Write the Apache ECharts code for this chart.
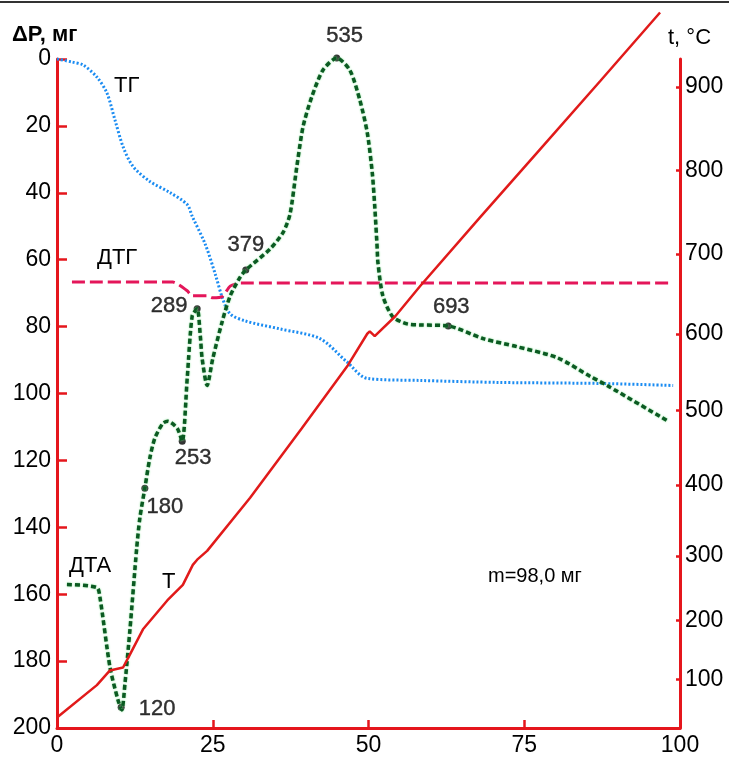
<!DOCTYPE html>
<html>
<head>
<meta charset="utf-8">
<script src="https://cdn.jsdelivr.net/npm/echarts@6/dist/echarts.min.js"></script>
<style>
html, body { margin: 0; padding: 0; background: #fff; }
#chart { width: 729px; height: 757px; }
</style>
</head>
<body>
<div id="chart"></div>
<script>
// Ось X (время / шкала 0..100)
const xTicks = [0, 25, 50, 75, 100];

// ТГ — потеря массы, мг
const tgX = [0, 2.4, 4.2, 6.4, 8.0, 9.3, 10.6, 12.2, 14.9, 18.1, 20.9, 21.7, 23.8, 25.4, 26.6, 27.8, 30.2, 35.8, 42.2, 46.5, 49.8, 58.3, 71.1, 87.2, 98.9];
const tgY = [0, 0.9, 1.8, 5.4, 10.1, 18.2, 26.2, 32.1, 36.6, 39.9, 43.5, 47.0, 55.4, 64.3, 71.7, 76.2, 78.3, 80.7, 83.6, 90.5, 95.5, 96.1, 96.7, 97.0, 97.6];

// ДТГ
const dtgX = [2.4, 18.6, 20.9, 21.7, 24.1, 25.0, 26.5, 27.8, 29.4, 98.1];
const dtgY = [66.7, 66.7, 69.3, 70.8, 70.8, 71.4, 71.1, 67.9, 67.0, 67.0];

// ДТА
const dtaX = [1.6, 6.4, 6.9, 8.5, 9.8, 10.4, 10.9, 11.7, 12.8, 13.3, 14.1, 14.9, 15.7, 17.0, 17.8, 19.3, 20.1, 20.9, 21.7, 22.5, 23.0, 23.3, 24.1, 25.0, 26.5, 27.8, 29.4, 30.3, 34.2, 36.3, 37.4, 38.5, 39.5, 40.9, 42.7, 44.9, 47.0, 48.6, 49.8, 50.6, 51.0, 51.4, 51.5, 52.3, 53.9, 56.2, 58.3, 62.8, 68.4, 73.8, 80.3, 85.6, 88.3, 98.1];
const dtaY = [157.1, 158.0, 161.0, 181.8, 191.7, 194.6, 186.9, 170.8, 146.1, 137.2, 128.3, 119.3, 113.4, 108.9, 108.3, 110.4, 114.3, 95.5, 76.8, 74.7, 82.7, 89.6, 97.6, 89.6, 78.6, 70.8, 65.2, 63.1, 56.8, 51.8, 46.4, 32.1, 20.2, 11.3, 3.3, -0.3, 3.3, 12.2, 22.0, 33.9, 44.0, 56.8, 60.7, 70.8, 77.1, 79.2, 79.5, 79.8, 83.6, 86.0, 89.3, 94.9, 97.6, 108.3];

// T — температура, °C
const tX = [0, 6.4, 8.5, 10.6, 11.7, 13.8, 17.7, 20.2, 21.8, 22.5, 24.1, 31.0, 39.3, 46.7, 49.8, 50.2, 51.0, 54.3, 58.3, 67.9, 77.5, 87.2, 96.8];
const tY = [35, 90, 115, 120, 142, 185, 231, 255, 286, 294, 307, 382, 476, 559, 600, 603, 597, 622, 660, 744, 825, 907, 989];

// Неравномерная шкала температуры справа: подписи и их место на шкале 0..1000
const tempTicks = [100, 200, 300, 400, 500, 600, 700, 800, 900];
const tempTickScale = [72.9, 160.7, 257.4, 363.1, 474.7, 589.3, 708.3, 833.3, 958.3];

// Отмеченные точки на кривой ДТА
const peakX = [10.3, 14.1, 20.1, 22.5, 30.3, 44.9, 62.8];
const peakY = [193.8, 128.3, 114.3, 74.7, 63.1, -0.3, 79.8];
const peakTemp = [120, 180, 253, 289, 379, 535, 693];
// смещение подписей от точки (px)
const peakLabelOffset = [[36, 2], [20, 19], [11, 17], [-28, -3], [0, -25], [8, -22], [3, -19]];

// температура -> место на шкале (кусочно-линейно по подписям оси)
function toScale(t) {
    let i = 0;
    while (i < tempTicks.length - 2 && t > tempTicks[i + 1]) i++;
    const k = (tempTickScale[i + 1] - tempTickScale[i]) / (tempTicks[i + 1] - tempTicks[i]);
    return tempTickScale[i] + (t - tempTicks[i]) * k;
}

const pairs = (xs, ys) => xs.map((x, i) => [x, ys[i]]);

const FONT = '"Liberation Sans", Arial, sans-serif';
const RED = '#e5161c';

const chart = echarts.init(document.getElementById('chart'));

chart.setOption({
    animation: false,
    backgroundColor: '#fff',
    grid: { left: 57, right: 49, top: 59, bottom: 26 },
    xAxis: {
        type: 'value',
        min: xTicks[0], max: xTicks[xTicks.length - 1], interval: 25,
        axisLine: { onZero: false, lineStyle: { color: RED, width: 3 } },
        axisTick: { inside: true, length: 8, lineStyle: { color: RED, width: 2.5 } },
        axisLabel: { color: '#000', fontSize: 23, fontFamily: FONT, margin: 6 },
        splitLine: { show: false }
    },
    yAxis: [
        {
            type: 'value',
            inverse: true,
            min: 0, max: 200, interval: 20,
            axisLine: { show: true, onZero: false, lineStyle: { color: RED, width: 3 } },
            axisTick: { show: true, inside: true, length: 10, lineStyle: { color: RED, width: 2.5 } },
            axisLabel: { color: '#000', fontSize: 23, fontFamily: FONT, margin: 6 },
            splitLine: { show: false }
        },
        {
            type: 'value',
            position: 'right',
            min: 0, max: 1000,
            axisLine: { show: true, onZero: false, lineStyle: { color: RED, width: 3 } },
            axisTick: { show: true, inside: true, length: 4, customValues: tempTickScale, lineStyle: { color: RED, width: 2.5 } },
            axisLabel: {
                color: '#000', fontSize: 23, fontFamily: FONT, margin: 5,
                customValues: tempTickScale,
                formatter: (v) => {
                    const i = tempTickScale.findIndex(s => Math.abs(s - v) < 1e-6);
                    return i >= 0 ? String(tempTicks[i]) : '';
                }
            },
            splitLine: { show: false }
        }
    ],
    series: [
        {
            name: 'ТГ', type: 'line', yAxisIndex: 0,
            data: pairs(tgX, tgY),
            smooth: 0.3, showSymbol: false,
            lineStyle: { color: '#1b8cf2', width: 3, type: [2, 2] }
        },
        {
            name: 'ДТГ', type: 'line', yAxisIndex: 0,
            data: pairs(dtgX, dtgY),
            smooth: 0.2, showSymbol: false,
            lineStyle: { color: '#e4165a', width: 3, type: [13, 5] }
        },
        {
            name: 'ДТА', type: 'line', yAxisIndex: 0,
            data: pairs(dtaX, dtaY),
            smooth: 0.25, showSymbol: false, clip: false,
            lineStyle: { color: '#0b5a22', width: 3.5, type: [5, 3], shadowColor: '#7fe08f', shadowBlur: 2 }
        },
        {
            name: 'T', type: 'line', yAxisIndex: 1,
            data: tX.map((x, i) => [x, toScale(tY[i])]),
            showSymbol: false, clip: false,
            lineStyle: { color: '#e11a1a', width: 2.5 }
        },
        {
            name: 'пики', type: 'scatter', yAxisIndex: 0,
            symbolSize: 7, clip: false,
            itemStyle: { color: '#000' },
            data: peakX.map((x, i) => ({
                value: [x, peakY[i]],
                label: {
                    show: true, position: 'inside',
                    offset: peakLabelOffset[i],
                    formatter: String(peakTemp[i]),
                    color: '#000', fontSize: 22, fontFamily: FONT,
                    textBorderColor: '#000', textBorderWidth: 0.4
                }
            }))
        }
    ],
    graphic: [
        { type: 'line', shape: { x1: 0, y1: 2, x2: 729, y2: 2 }, style: { stroke: '#333', lineWidth: 2 } },
        { type: 'text', left: 12, top: 24, style: { text: 'ΔP, мг', font: 'bold 22px ' + FONT, fill: '#000' } },
        { type: 'text', left: 668, top: 27, style: { text: 't, °C', font: '22px ' + FONT, fill: '#000' } },
        { type: 'text', left: 114, top: 75, style: { text: 'ТГ', font: '22px ' + FONT, fill: '#000' } },
        { type: 'text', left: 97, top: 247, style: { text: 'ДТГ', font: '22px ' + FONT, fill: '#000' } },
        { type: 'text', left: 69, top: 555, style: { text: 'ДТА', font: '22px ' + FONT, fill: '#000' } },
        { type: 'text', left: 162, top: 571, style: { text: 'T', font: '22px ' + FONT, fill: '#000' } },
        { type: 'text', left: 488, top: 566, style: { text: 'm=98,0 мг', font: '20px ' + FONT, fill: '#000' } }
    ]
});
</script>
</body>
</html>
